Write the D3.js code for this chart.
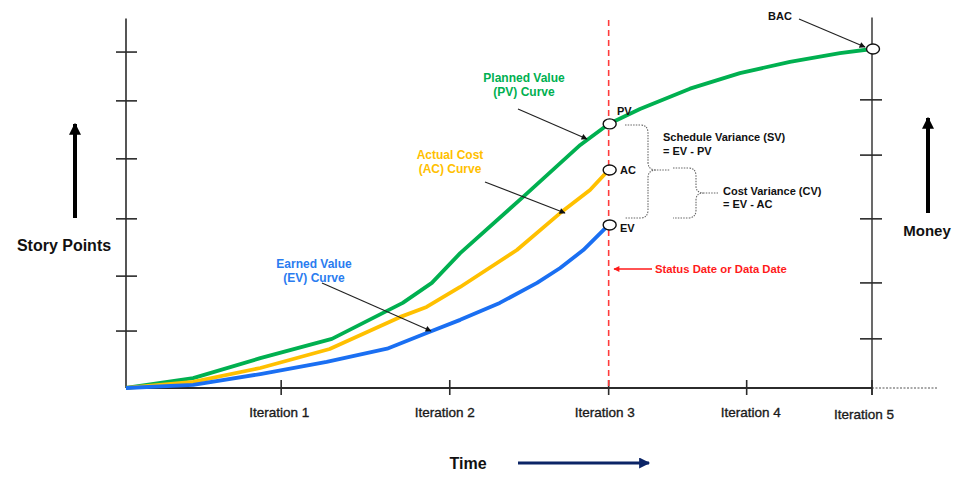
<!DOCTYPE html>
<html><head><meta charset="utf-8">
<script src="https://cdn.jsdelivr.net/npm/d3@7"></script>
<style>body{margin:0;background:#fff}svg{display:block}text{font-family:"Liberation Sans",Arial,sans-serif}</style>
</head><body><svg id="c" width="965" height="478"></svg>
<script>
// ---- data (time in % of project duration, value in % of BAC) ----
const iterLabels = ["Iteration 1","Iteration 2","Iteration 3","Iteration 4","Iteration 5"];
const iterTicks = [20.8, 43.4, 64.7, 83.2, 100];
const leftTicks = [99.1, 84.7, 67.6, 49.9, 33.0, 16.8];
const rightTicks = [85.0, 68.7, 49.9, 31.0, 14.5];
const statusDate = 64.7;
const pvX = [0, 9.0, 18.0, 27.6, 37.1, 41.0, 44.8, 53.2, 60.9, 64.7, 68.9, 75.6, 82.3, 89.0, 95.7, 100];
const pvY = [0, 2.9, 8.8, 14.5, 25.1, 31.0, 39.8, 56.3, 71.7, 77.9, 82.3, 88.3, 92.9, 96.2, 98.8, 100];
const acX = [0, 9.0, 18.0, 27.3, 36.7, 40.3, 44.8, 52.4, 58.2, 62.2, 64.7];
const acY = [0, 1.8, 5.9, 11.5, 20.9, 23.9, 29.8, 40.7, 51.6, 58.4, 64.3];
const evX = [0, 9.0, 18.0, 26.9, 35.0, 40.3, 44.8, 50.1, 55.1, 58.2, 61.3, 64.7];
const evY = [0, 0.9, 4.1, 7.7, 11.6, 16.2, 20.1, 25.1, 31.0, 35.4, 40.7, 48.1];

const svg = d3.select("#c");
const x = d3.scaleLinear().domain([0, 100]).range([126, 872]);
const y = d3.scaleLinear().domain([0, 100]).range([388, 49]);
const yTop = 109;

const defs = svg.append("defs");
function marker(id, color, w, h) {
  defs.append("marker").attr("id", id).attr("viewBox", "0 0 10 10").attr("refX", 9).attr("refY", 5)
    .attr("markerWidth", w).attr("markerHeight", h).attr("markerUnits", "userSpaceOnUse").attr("orient", "auto")
    .append("path").attr("d", "M0,0 L10,5 L0,10 Z").attr("fill", color);
}
marker("ab", "#111", 7, 6);
marker("ar", "#ff1a1a", 7, 6);
marker("big", "#000", 12, 12);
marker("navy", "#0b2466", 12, 11);

const axisColor = "#2b2b2b";
// left axis
svg.append("line").attr("x1", x(0)).attr("x2", x(0)).attr("y1", y(yTop)).attr("y2", y(0))
  .attr("stroke", axisColor).attr("stroke-width", 1.6);
svg.selectAll(".lt").data(leftTicks).join("line").attr("x1", x(0) - 10).attr("x2", x(0) + 11)
  .attr("y1", d => y(d)).attr("y2", d => y(d)).attr("stroke", axisColor).attr("stroke-width", 1.6);
// right axis
svg.append("line").attr("x1", x(100)).attr("x2", x(100)).attr("y1", y(yTop) - 1).attr("y2", y(0) + 7)
  .attr("stroke", axisColor).attr("stroke-width", 1.4);
svg.selectAll(".rt").data(rightTicks).join("line").attr("x1", x(100) - 12).attr("x2", x(100) + 10)
  .attr("y1", d => y(d)).attr("y2", d => y(d)).attr("stroke", axisColor).attr("stroke-width", 1.6);
// x axis
svg.append("line").attr("x1", x(0)).attr("x2", x(100)).attr("y1", y(0)).attr("y2", y(0))
  .attr("stroke", axisColor).attr("stroke-width", 1.8);
svg.append("line").attr("x1", x(100)).attr("x2", x(100) + 65).attr("y1", y(0)).attr("y2", y(0))
  .attr("stroke", "#555").attr("stroke-width", 1.2).attr("stroke-dasharray", "2,1.5");
svg.selectAll(".xt").data(iterTicks).join("line").attr("x1", d => x(d)).attr("x2", d => x(d))
  .attr("y1", y(0) - 8).attr("y2", y(0) + 7).attr("stroke", axisColor).attr("stroke-width", 1.6);
svg.selectAll(".xl").data(iterLabels).join("text")
  .attr("x", (d, i) => x(iterTicks[i]) + [-2, -5, -4, 4, -8][i])
  .attr("y", (d, i) => i === 4 ? 419 : 417)
  .attr("text-anchor", "middle").attr("font-size", 13.5).attr("fill", "#1a1a1a")
  .attr("stroke", "#1a1a1a").attr("stroke-width", 0.35).text(d => d);

// status date line
svg.append("line").attr("x1", x(statusDate)).attr("x2", x(statusDate)).attr("y1", 20).attr("y2", y(0))
  .attr("stroke", "#ff3b3b").attr("stroke-width", 1.6).attr("stroke-dasharray", "6,4");

// curves
const line = d3.line().x(d => x(d[0])).y(d => y(d[1]));
const series = [
  {xs: pvX, ys: pvY, c: "#00b050"},
  {xs: acX, ys: acY, c: "#ffc000"},
  {xs: evX, ys: evY, c: "#1a6ff2"}
];
series.forEach(s => {
  svg.append("path").datum(s.xs.map((v, i) => [v, s.ys[i]])).attr("d", line)
    .attr("fill", "none").attr("stroke", s.c).attr("stroke-width", 3.8).attr("stroke-linejoin", "round");
});

// markers on curves
const pts = [
  [statusDate, pvY[pvX.indexOf(statusDate)]],
  [statusDate, acY[acY.length - 1]],
  [statusDate, evY[evY.length - 1]],
  [100, pvY[pvY.length - 1]]
];
svg.selectAll(".pt").data(pts).join("ellipse").attr("cx", d => x(d[0]) + 1).attr("cy", d => y(d[1]))
  .attr("rx", 6.5).attr("ry", 5).attr("fill", "#fff").attr("stroke", "#111").attr("stroke-width", 1.4);

function txt(t, px, py, opts = {}) {
  svg.append("text").attr("x", px).attr("y", py).attr("font-size", opts.size || 11)
    .attr("font-weight", opts.weight || "bold").attr("fill", opts.fill || "#111")
    .attr("text-anchor", opts.anchor || "start").text(t);
}
txt("PV", 617, 115);
txt("AC", 620, 174);
txt("EV", 620, 232);
txt("BAC", 768, 20);

function arrow(x1, y1, x2, y2, m, color, w) {
  svg.append("line").attr("x1", x1).attr("y1", y1).attr("x2", x2).attr("y2", y2)
    .attr("stroke", color).attr("stroke-width", w).attr("marker-end", `url(#${m})`);
}
arrow(799, 19, 865, 47, "ab", "#222", 1.2);
arrow(518, 109, 587, 139, "ab", "#222", 1.2);
arrow(485, 182, 565, 213, "ab", "#222", 1.2);
arrow(322, 283, 431, 331, "ab", "#222", 1.2);
arrow(652, 269, 614, 269, "ar", "#ff1a1a", 1.4);

// curve labels
txt("Planned Value", 524, 82, {fill: "#00b050", anchor: "middle", size: 12});
txt("(PV) Curve", 524, 96, {fill: "#00b050", anchor: "middle", size: 12});
txt("Actual Cost", 450, 159, {fill: "#ffc000", anchor: "middle", size: 12});
txt("(AC) Curve", 450, 173, {fill: "#ffc000", anchor: "middle", size: 12});
txt("Earned Value", 314, 268, {fill: "#2a7cf0", anchor: "middle", size: 12});
txt("(EV) Curve", 314, 282, {fill: "#2a7cf0", anchor: "middle", size: 12});

// variance braces
const brace = "#666";
svg.append("path").attr("d", "M625,125 L640,125 Q648,125 648,133 L648,162 Q648,170 656,170 L670,170 M656,170 Q648,170 648,178 L648,210 Q648,218 640,218 L625,218")
  .attr("fill", "none").attr("stroke", brace).attr("stroke-width", 1.1).attr("stroke-dasharray", "1.5,1.2");
svg.append("path").attr("d", "M673,168 L688,168 Q696,168 696,176 L696,186 Q696,193 704,193 L718,193 M704,193 Q696,193 696,200 L696,210 Q696,218 688,218 L673,218")
  .attr("fill", "none").attr("stroke", brace).attr("stroke-width", 1.1).attr("stroke-dasharray", "1.5,1.2");
txt("Schedule Variance (SV)", 663, 141);
txt("= EV - PV", 663, 155);
txt("Cost Variance (CV)", 723, 195);
txt("= EV - AC", 723, 208);
txt("Status Date or Data Date", 655, 273, {fill: "#ff1a1a", size: 11.3});

// axis titles
txt("Story Points", 64, 251, {anchor: "middle", size: 16});
arrow(75, 218, 75, 124, "big", "#000", 4);
txt("Money", 927, 236, {anchor: "middle", size: 15});
arrow(928, 213, 928, 118, "big", "#000", 4);
txt("Time", 468, 469, {anchor: "middle", size: 16});
arrow(518, 463, 649, 463, "navy", "#0b2466", 3.2);
</script></body></html>
